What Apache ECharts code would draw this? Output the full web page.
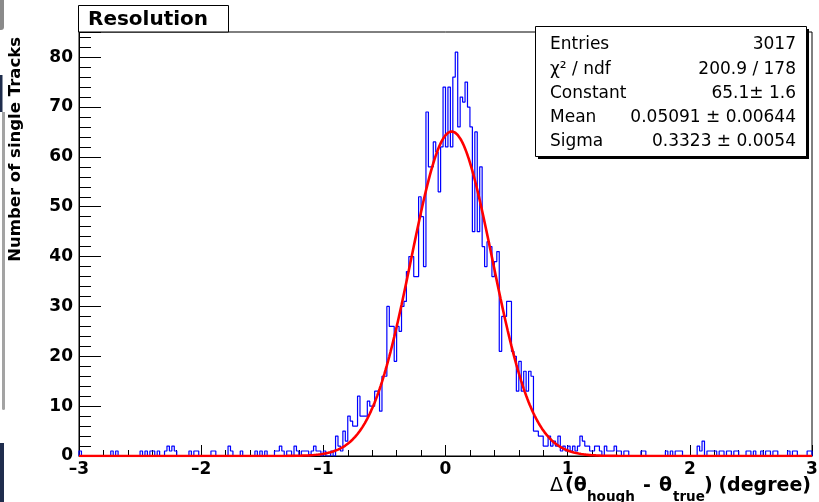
<!DOCTYPE html>
<html>
<head>
<meta charset="utf-8">
<title>Resolution</title>
<script src="https://cdn.jsdelivr.net/npm/echarts@6/dist/echarts.min.js"></script>
<style>
  html, body { margin: 0; padding: 0; background: #fff; }
  #box { width: 819px; height: 502px; }
</style>
</head>
<body>
<div id="box"></div>
<script>
// binning of the histogram
var xMin = -3
var xMax = 3
var binWidth = 0.02

// entries per bin (300 bins, -3 .. 3)
var counts = [
  1, 0, 0, 0, 0, 0, 0, 0, 0, 0,
  0, 0, 0, 1, 0, 1, 0, 0, 0, 0,
  0, 0, 0, 0, 0, 1, 0, 1, 0, 1,
  1, 0, 1, 0, 0, 1, 2, 1, 2, 1,
  0, 0, 0, 0, 0, 1, 0, 1, 1, 0,
  0, 0, 0, 0, 1, 1, 0, 0, 0, 0,
  0, 2, 1, 0, 0, 0, 1, 0, 0, 0,
  0, 0, 1, 0, 1, 0, 1, 0, 0, 0,
  1, 1, 2, 1, 0, 1, 1, 0, 2, 1,
  0, 1, 1, 1, 0, 1, 2, 1, 1, 0,
  1, 0, 0, 1, 0, 4, 2, 1, 5, 3,
  8, 7, 6, 6, 12, 8, 8, 8, 11, 10,
  10, 13, 13, 9, 16, 16, 30, 26, 26, 19,
  26, 25, 30, 31, 37, 40, 40, 36, 36, 52,
  48, 38, 69, 58, 58, 63, 61, 53, 62, 74,
  62, 74, 62, 76, 81, 66, 72, 71, 75, 70,
  66, 45, 65, 45, 58, 42, 38, 43, 42, 36,
  39, 41, 21, 28, 28, 31, 31, 21, 20, 13,
  19, 13, 17, 13, 17, 16, 5, 5, 4, 4,
  2, 2, 4, 2, 3, 2, 4, 1, 2, 1,
  2, 1, 2, 1, 2, 4, 3, 2, 2, 1,
  1, 2, 2, 1, 0, 2, 1, 1, 1, 2,
  1, 1, 0, 1, 1, 0, 0, 0, 0, 0,
  1, 1, 0, 0, 0, 0, 0, 0, 0, 0,
  1, 0, 1, 0, 1, 1, 1, 0, 0, 0,
  0, 0, 0, 2, 1, 3, 0, 1, 1, 1,
  1, 0, 1, 1, 0, 1, 1, 0, 1, 1,
  0, 0, 0, 1, 1, 0, 1, 0, 0, 1,
  0, 1, 1, 0, 1, 1, 0, 0, 0, 0,
  1, 0, 1, 1, 0, 0, 0, 0, 1, 1
]

// axis ticks
var xTicks = [-3, -2, -1, 0, 1, 2, 3]
var yTicks = [0, 10, 20, 30, 40, 50, 60, 70, 80]
var yMax = 85.05

// gaussian fit result
var fitConstant = 65.1
var fitMean = 0.05091
var fitSigma = 0.3323

// stat box
var statLabels = ['Entries', 'χ² / ndf', 'Constant', 'Mean', 'Sigma']
var statValues = ['3017', '200.9 / 178', '65.1± 1.6', '0.05091 ± 0.00644', '0.3323 ± 0.0054']

// step outline of the histogram: one point on the left edge of every bin
var histPoints = [[xMin, 0]]
for (var i = 0; i < counts.length; i++) {
  histPoints.push([xMin + i * binWidth, counts[i]])
}
histPoints.push([xMax, counts[counts.length - 1]])
histPoints.push([xMax, 0])

// fitted function drawn over the full range
var fitPoints = []
for (var j = 0; j <= 600; j++) {
  var x = xMin + j * (xMax - xMin) / 600
  var t = (x - fitMean) / fitSigma
  fitPoints.push([x, fitConstant * Math.exp(-0.5 * t * t)])
}

var font = '"DejaVu Sans", "Liberation Sans", sans-serif'

function txt(x, y, text, size, opts) {
  opts = opts || {}
  return {
    type: 'text',
    x: x,
    y: y,
    rotation: opts.rotation || 0,
    z: 100,
    silent: true,
    style: {
      text: text,
      font: (opts.bold ? 'bold ' : '') + size + 'px ' + font,
      fill: '#000',
      align: opts.align || 'left',
      textAlign: opts.align || 'left',
      verticalAlign: 'middle',
      textVerticalAlign: 'middle'
    }
  }
}

var graphic = [
  // remnants of the window border on the left
  { type: 'rect', silent: true, shape: { x: 0, y: 0, width: 4, height: 30, r: [0, 0, 3, 0] }, style: { fill: '#8a8a8a' } },
  { type: 'rect', silent: true, shape: { x: 0, y: 75, width: 2.5, height: 37 }, style: { fill: '#1f2d4d' } },
  { type: 'rect', silent: true, shape: { x: 2, y: 112, width: 3, height: 298, r: [0, 0, 3, 3] }, style: { fill: '#a3a3a3' } },
  { type: 'rect', silent: true, shape: { x: 0, y: 443, width: 4, height: 59 }, style: { fill: '#1f2d4d' } },

  // title box
  { type: 'rect', silent: true, z: 90, shape: { x: 78.5, y: 5.5, width: 150, height: 26.5 }, style: { fill: '#fff', stroke: '#000', lineWidth: 1 } },
  txt(88, 19.5, 'Resolution', 20, { bold: true }),

  // stat box with its shadow
  { type: 'rect', silent: true, z: 90, shape: { x: 538, y: 29, width: 271, height: 130 }, style: { fill: '#000' } },
  { type: 'rect', silent: true, z: 91, shape: { x: 535.5, y: 26.5, width: 271, height: 130 }, style: { fill: '#fff', stroke: '#000', lineWidth: 1 } },

  // axis titles
  txt(16, 37, 'Number of single Tracks', 16.5, { bold: true, rotation: Math.PI / 2, align: 'right' }),
  txt(550, 486, 'Δ', 19),
  txt(565, 486, '(θ', 19, { bold: true }),
  txt(587, 497, 'hough', 13.5, { bold: true }),
  txt(643, 486, '-', 19, { bold: true }),
  txt(659, 486, 'θ', 19, { bold: true }),
  txt(673, 497, 'true', 13.5, { bold: true }),
  txt(704, 486, ')', 19, { bold: true }),
  txt(811, 486, '(degree)', 19, { bold: true, align: 'right' })
]

var statRows = [45, 69.5, 94, 118, 142]
statLabels.forEach(function(label, k) {
  graphic.push(txt(550, statRows[k], label, 17))
  graphic.push(txt(796, statRows[k], statValues[k], 17, { align: 'right' }))
})

var labelStyle = {
  color: '#000',
  fontFamily: font,
  fontWeight: 'bold',
  fontSize: 17
}

var myChart = echarts.init(document.getElementById('box'), null, { renderer: 'canvas' })
myChart.setOption({
  animation: false,
  backgroundColor: '#fff',
  grid: {
    left: 79,
    right: 7,
    top: 32,
    bottom: 46,
    containLabel: false,
    outerBoundsMode: 'none',
    show: true,
    backgroundColor: '#fff',
    borderColor: '#000',
    borderWidth: 1
  },
  xAxis: {
    type: 'value',
    min: xTicks[0],
    max: xTicks[xTicks.length - 1],
    interval: 1,
    axisLine: { show: true, onZero: false, lineStyle: { color: '#000', width: 1 } },
    axisTick: { show: true, inside: true, length: 11, lineStyle: { color: '#000', width: 1 } },
    minorTick: { show: true, splitNumber: 5, length: 6, lineStyle: { color: '#000', width: 1 } },
    axisLabel: Object.assign({
      margin: 5,
      showMinLabel: true,
      showMaxLabel: true,
      formatter: function(v) {
        return v < 0 ? '–' + Math.abs(v) : String(v)
      }
    }, labelStyle),
    splitLine: { show: false }
  },
  yAxis: [
    {
      type: 'value',
      min: yTicks[0],
      max: yMax,
      interval: 10,
      axisLine: { show: true, onZero: false, lineStyle: { color: '#000', width: 1 } },
      axisTick: { show: true, inside: true, length: 22, lineStyle: { color: '#000', width: 1 } },
      axisLabel: Object.assign({
        margin: 6,
        formatter: function(v) {
          return yTicks.indexOf(v) >= 0 ? String(v) : ''
        }
      }, labelStyle),
      splitLine: { show: false }
    },
    {
      // only for the small ticks every 2 entries
      type: 'value',
      position: 'left',
      offset: 0,
      min: yTicks[0],
      max: yMax,
      interval: 2,
      axisLine: { show: false, onZero: false },
      axisTick: { show: true, inside: true, length: 12, lineStyle: { color: '#000', width: 1 } },
      axisLabel: { show: false },
      splitLine: { show: false }
    }
  ],
  series: [
    {
      type: 'line',
      name: 'Resolution',
      data: histPoints,
      step: 'end',
      symbol: 'none',
      showSymbol: false,
      lineStyle: { color: '#0000ff', width: 1.2 },
      z: 2
    },
    {
      type: 'line',
      name: 'gaus',
      data: fitPoints,
      symbol: 'none',
      showSymbol: false,
      lineStyle: { color: '#ff0000', width: 2.6 },
      z: 3
    }
  ],
  graphic: graphic
})
</script>
</body>
</html>
